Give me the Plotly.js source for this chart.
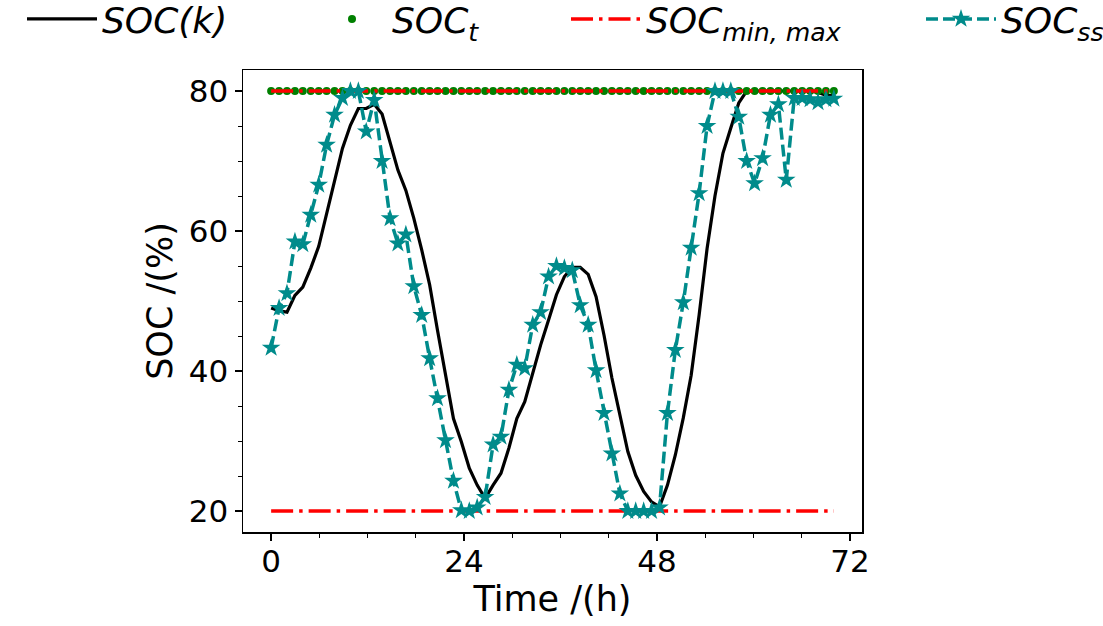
<!DOCTYPE html>
<html>
<head>
<meta charset="utf-8">
<script src="https://cdn.plot.ly/plotly-3.0.1.min.js"></script>
<style>html,body{margin:0;padding:0;background:#fff;}#chart{width:1103px;height:626px;}</style>
</head>
<body>
<div id="chart"></div>
<script>
// Time stamps (h) of the 72 samples
const time = [0,0.99,1.97,2.96,3.94,4.93,5.92,6.90,7.89,8.87,9.86,10.85,11.83,12.82,13.80,14.79,15.77,16.76,17.75,18.73,19.72,20.70,21.69,22.68,23.66,24.65,25.63,26.62,27.61,28.59,29.58,30.56,31.55,32.54,33.52,34.51,35.49,36.48,37.46,38.45,39.44,40.42,41.41,42.39,43.38,44.37,45.35,46.34,47.32,48.31,49.30,50.28,51.27,52.25,53.24,54.23,55.21,56.20,57.18,58.17,59.15,60.14,61.13,62.11,63.10,64.08,65.07,66.06,67.04,68.03,69.01,70.00];
// SOC(k) - realized state of charge
const socK = [49.0,48.6,48.4,50.8,52.0,54.7,57.8,62.3,67.0,71.8,75.1,77.5,77.5,78.1,76.7,72.8,68.7,65.8,61.8,57.3,52.3,45.8,39.4,33.2,29.9,26.1,23.7,21.8,23.7,25.4,29.0,33.2,35.6,39.7,43.7,47.3,50.9,53.5,54.8,54.8,53.8,50.6,45.1,39.0,33.7,28.5,25.1,22.8,21.3,20.6,23.7,28.0,33.3,39.4,48.0,57.5,65.0,71.1,74.7,78.3,80.0,80.0,80.0,80.0,80.0,80.0,80.0,80.0,80.0,79.8,79.4,79.3];
// SOC_t - target
const socT = [80,80,80,80,80,80,80,80,80,80,80,80,80,80,80,80,80,80,80,80,80,80,80,80,80,80,80,80,80,80,80,80,80,80,80,80,80,80,80,80,80,80,80,80,80,80,80,80,80,80,80,80,80,80,80,80,80,80,80,80,80,80,80,80,80,80,80,80,80,80,80,80];
// SOC_min / SOC_max bounds
const boundX = [0, 70, null, 0, 70];
const boundY = [20, 20, null, 80, 80];
// SOC_ss
const socSS = [43.3,49.0,51.1,58.5,58.1,62.3,66.6,72.3,76.6,79.0,80.0,80.0,74.2,78.7,70.0,61.8,58.2,59.5,52.1,48.0,41.8,36.1,30.1,24.3,20.1,20.0,20.5,22.0,29.5,30.6,37.3,40.9,40.4,46.6,48.4,53.5,55.0,54.7,54.4,49.4,46.6,40.1,34.0,28.2,22.5,20.0,20.0,20.0,20.0,20.5,34.0,43.0,49.8,57.6,65.4,75.0,80.0,80.0,80.0,76.3,70.0,66.8,70.4,76.6,78.1,67.3,79.0,79.0,78.8,78.4,78.8,78.9];

const xTicks = [0, 24, 48, 72];
const yTicks = [20, 40, 60, 80];

const FONT = 'DejaVu Sans, sans-serif';
const TEAL = '#008B8B';

const traces = [
  {x: time, y: socK, type: 'scatter', mode: 'lines', name: 'SOC(k)',
   line: {color: '#000000', width: 3.2}, legend: 'legend'},
  {x: time, y: socT, type: 'scatter', mode: 'markers', name: 'SOC<sub>t</sub>',
   marker: {color: '#008000', size: 8}, legend: 'legend2'},
  {x: boundX, y: boundY, type: 'scatter', mode: 'lines', name: 'SOC<sub>min, max</sub>',
   line: {color: '#FF0000', width: 3.5, dash: '22px,6px,3.5px,6px'}, connectgaps: false, legend: 'legend3'},
  {x: time, y: socSS, type: 'scatter', mode: 'lines+markers', name: 'SOC<sub>ss</sub>',
   line: {color: TEAL, width: 3.5, dash: '12px,5px'},
   marker: {color: TEAL, size: 14, symbol: 'star'}, legend: 'legend4'}
];

const plotTop = 70, plotBottom = 532, plotLeft = 243, plotRight = 862;
const ph = plotBottom - plotTop, pw = plotRight - plotLeft;
function px2x(p) { return (p - plotLeft) / pw; }
function px2y(p) { return (plotBottom - p) / ph; }

function legendCfg(leftPx) {
  return {
    x: px2x(leftPx), xanchor: 'left',
    y: px2y(19), yanchor: 'middle',
    bgcolor: 'rgba(0,0,0,0)', borderwidth: 0,
    font: {family: FONT, size: 36, color: '#000', style: 'italic'},
    itemwidth: 70
  };
}

const layout = {
  width: 1103, height: 626,
  margin: {l: plotLeft, r: 1103 - plotRight, t: plotTop, b: 626 - plotBottom, pad: 0, autoexpand: false},
  paper_bgcolor: '#ffffff', plot_bgcolor: '#ffffff',
  font: {family: FONT, color: '#000'},
  showlegend: true,
  legend: legendCfg(22),
  legend2: legendCfg(312),
  legend3: legendCfg(566),
  legend4: legendCfg(921),
  xaxis: {
    range: [-3.5, 73.5], tickmode: 'array', tickvals: xTicks,
    ticks: 'outside', ticklen: 7, tickwidth: 1.5, tickcolor: '#000',
    showline: true, linecolor: '#000', linewidth: 1.5, mirror: true,
    showgrid: false, zeroline: false, ticklabelstandoff: -6,
    tickfont: {family: FONT, size: 31, color: '#000'},
    title: {text: 'Time /(h)', font: {family: FONT, size: 35, color: '#000'}, standoff: 6},
    minor: {tickmode: 'array', tickvals: [6, 12, 18, 30, 36, 42, 54, 60, 66], ticks: 'outside', ticklen: 4, tickwidth: 1, tickcolor: '#000', showgrid: false}
  },
  yaxis: {
    range: [17, 83], tickmode: 'array', tickvals: yTicks,
    ticks: 'outside', ticklen: 7, tickwidth: 1.5, tickcolor: '#000',
    showline: true, linecolor: '#000', linewidth: 1.5, mirror: true,
    showgrid: false, zeroline: false,
    tickfont: {family: FONT, size: 31, color: '#000'},
    title: {text: 'SOC /(%)', font: {family: FONT, size: 35, color: '#000'}, standoff: 5},
    minor: {tickmode: 'array', tickvals: [25, 30, 35, 45, 50, 55, 65, 70, 75], ticks: 'outside', ticklen: 4, tickwidth: 1, tickcolor: '#000', showgrid: false}
  }
};

Plotly.newPlot('chart', traces, layout, {staticPlot: true, displayModeBar: false});
</script>
</body>
</html>
